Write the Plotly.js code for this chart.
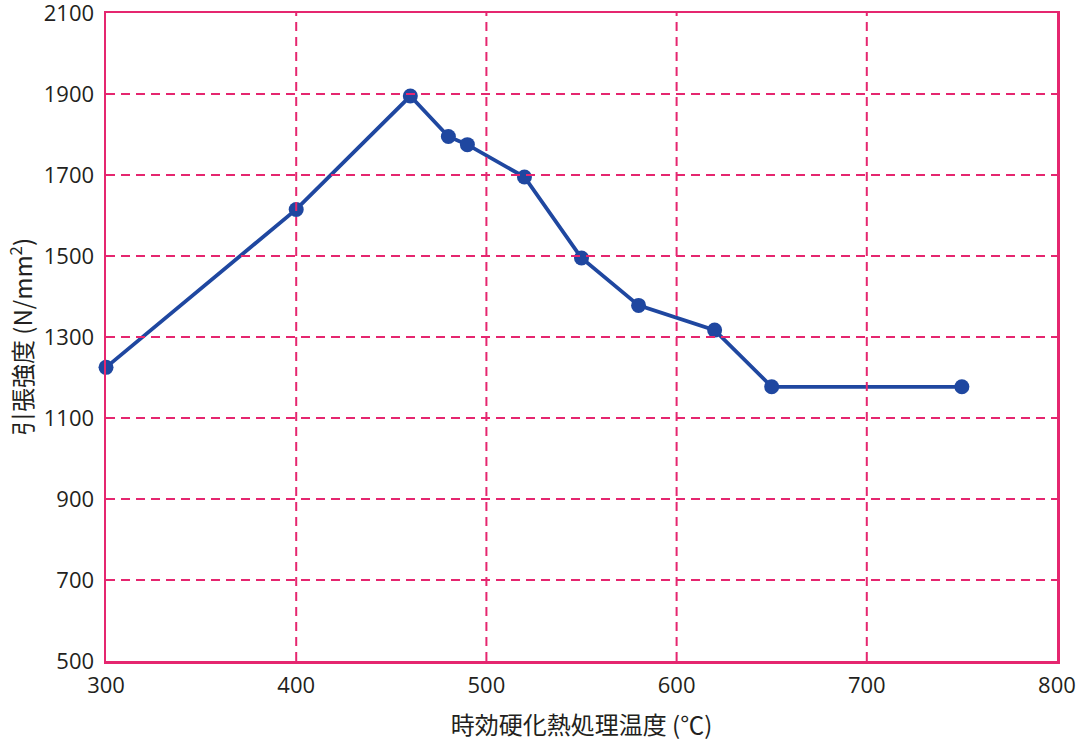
<!DOCTYPE html>
<html>
<head>
<meta charset="utf-8">
<script src="https://cdn.plot.ly/plotly-3.0.1.min.js"></script>
<style>
html,body{margin:0;padding:0;background:#fff;}
#chart{width:1079px;height:741px;}
</style>
</head>
<body>
<div id="chart"></div>
<script>
const temperatures = [300, 400, 460, 480, 490, 520, 550, 580, 620, 650, 750];
const tensileStrength = [1225, 1615, 1895, 1795, 1775, 1695, 1495, 1378, 1317, 1177, 1177];
const xTicks = [300, 400, 500, 600, 700, 800];
const yTicks = [500, 700, 900, 1100, 1300, 1500, 1700, 1900, 2100];

const pink = '#e5266f';
const blue = '#1f47a0';
const textColor = '#231f20';
const tickFam = '"Open Sans", "Noto Sans", sans-serif';
const titleFam = '"Noto Sans CJK JP", "Open Sans", sans-serif';

const trace = {
  x: temperatures,
  y: tensileStrength,
  type: 'scatter',
  mode: 'lines+markers',
  line: {color: blue, width: 3.8},
  marker: {color: blue, size: 15},
  cliponaxis: false,
  hoverinfo: 'x+y'
};

// dashed grid drawn above the data, as in the reference
const gridLine = {color: pink, width: 2, dash: '9px,6px'};
const shapes = [];
xTicks.slice(1, -1).forEach(v => shapes.push({type: 'line', layer: 'above', xref: 'x', yref: 'paper', x0: v, x1: v, y0: 0, y1: 1, line: gridLine}));
yTicks.slice(1, -1).forEach(v => shapes.push({type: 'line', layer: 'above', xref: 'paper', yref: 'y', x0: 0, x1: 1, y0: v, y1: v, line: gridLine}));

const axisCommon = {
  showgrid: false,
  zeroline: false,
  showline: true,
  linecolor: pink,
  linewidth: 2.5,
  mirror: true,
  ticks: '',
  layer: 'above traces',
  ticklabeloverflow: 'allow',
  tickfont: {family: tickFam, size: 22, color: textColor}
};

const layout = {
  width: 1079,
  height: 741,
  margin: {l: 106, r: 22, t: 13, b: 80},
  paper_bgcolor: '#fff',
  plot_bgcolor: '#fff',
  showlegend: false,
  font: {family: titleFam, color: textColor, size: 20},
  shapes: shapes,
  xaxis: Object.assign({}, axisCommon, {
    range: [299.99, 800.01],
    tickvals: xTicks,
    ticktext: xTicks.map(String),
    ticklabelstandoff: 3,
    title: {text: '時効硬化熱処理温度 (℃)', font: {family: titleFam, size: 24, color: textColor}, standoff: 20}
  }),
  yaxis: Object.assign({}, axisCommon, {
    range: [499.99, 2100.01],
    tickvals: yTicks,
    ticktext: yTicks.map(String),
    ticklabelstandoff: 5,
    title: {text: '引張強度 (N/mm<sup>2</sup>)', font: {family: titleFam, size: 24, color: textColor}, standoff: 5}
  })
};

Plotly.newPlot('chart', [trace], layout, {displayModeBar: false, staticPlot: true});
</script>
</body>
</html>
